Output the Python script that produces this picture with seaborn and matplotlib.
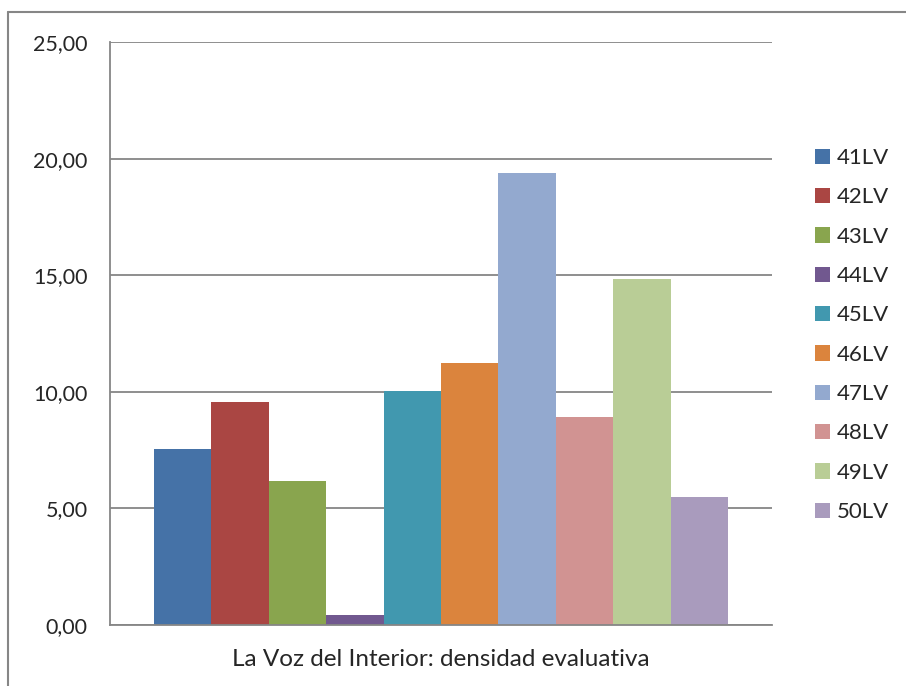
import pandas as pd
import seaborn as sns
import matplotlib.pyplot as plt
from matplotlib.ticker import FuncFormatter, FixedLocator
from matplotlib.lines import Line2D

# Data
category = "La Voz del Interior: densidad evaluativa"
series = ["41LV", "42LV", "43LV", "44LV", "45LV", "46LV", "47LV", "48LV", "49LV", "50LV"]
values = [7.54, 9.56, 6.17, 0.43, 10.03, 11.23, 19.37, 8.92, 14.83, 5.49]
colors = ["#4572A7", "#AA4643", "#89A54E", "#71588F", "#4198AF",
          "#DB843D", "#93A9CF", "#D19392", "#B9CD96", "#A99BBD"]
y_ticks = [0, 5, 10, 15, 20, 25]

df = pd.DataFrame({"Categoria": [category] * len(series), "Serie": series, "Valor": values})

sns.set_style("white")
plt.rcParams["font.family"] = ["Lato", "DejaVu Sans"]
grey = "#868686"

fig = plt.figure(figsize=(9.06, 6.86), dpi=100)
ax = fig.add_axes([110 / 906, 1 - 625 / 686, 662 / 906, 583 / 686])

sns.barplot(data=df, x="Categoria", y="Valor", hue="Serie", palette=colors,
            width=0.867, gap=0, saturation=1, linewidth=0, ax=ax, legend=True)

ax.set_xlim(-0.5, 0.5)
ax.set_ylim(0, 25)
ax.yaxis.set_major_locator(FixedLocator(y_ticks))
ax.yaxis.set_major_formatter(FuncFormatter(lambda v, p: f"{v:.2f}".replace(".", ",")))
ax.grid(True, axis="y", color=grey, linewidth=1.3)
ax.set_axisbelow(True)

for side in ["top", "right"]:
    ax.spines[side].set_visible(False)
for side in ["left", "bottom"]:
    ax.spines[side].set_color(grey)
    ax.spines[side].set_linewidth(1.3)

ax.tick_params(axis="y", length=6, width=1.3, color=grey, labelsize=15.5, pad=10, direction="out")
ax.tick_params(axis="x", which="major", length=0, labelsize=17.5, pad=17)
ax.xaxis.set_minor_locator(FixedLocator([-0.5, 0.5]))
ax.tick_params(axis="x", which="minor", length=6, width=1.3, color=grey, direction="out")
ax.set_xlabel("")
ax.set_ylabel("")

handles, labels = ax.get_legend_handles_labels()
ax.legend(handles, labels, loc="center left", bbox_to_anchor=(815 / 906, 1 - 335 / 686),
          bbox_transform=fig.transFigure, frameon=False, fontsize=16,
          handlelength=0.68, handleheight=0.68, handletextpad=0.3,
          labelspacing=0.87, borderpad=0, borderaxespad=0)

# chart area border (top and left edges visible in the reference)
fig.add_artist(Line2D([8 / 906, 1], [1 - 12 / 686, 1 - 12 / 686], color=grey, linewidth=1.5))
fig.add_artist(Line2D([8 / 906, 8 / 906], [0, 1 - 12 / 686], color=grey, linewidth=1.5))

fig.savefig("out.png", dpi=100)
